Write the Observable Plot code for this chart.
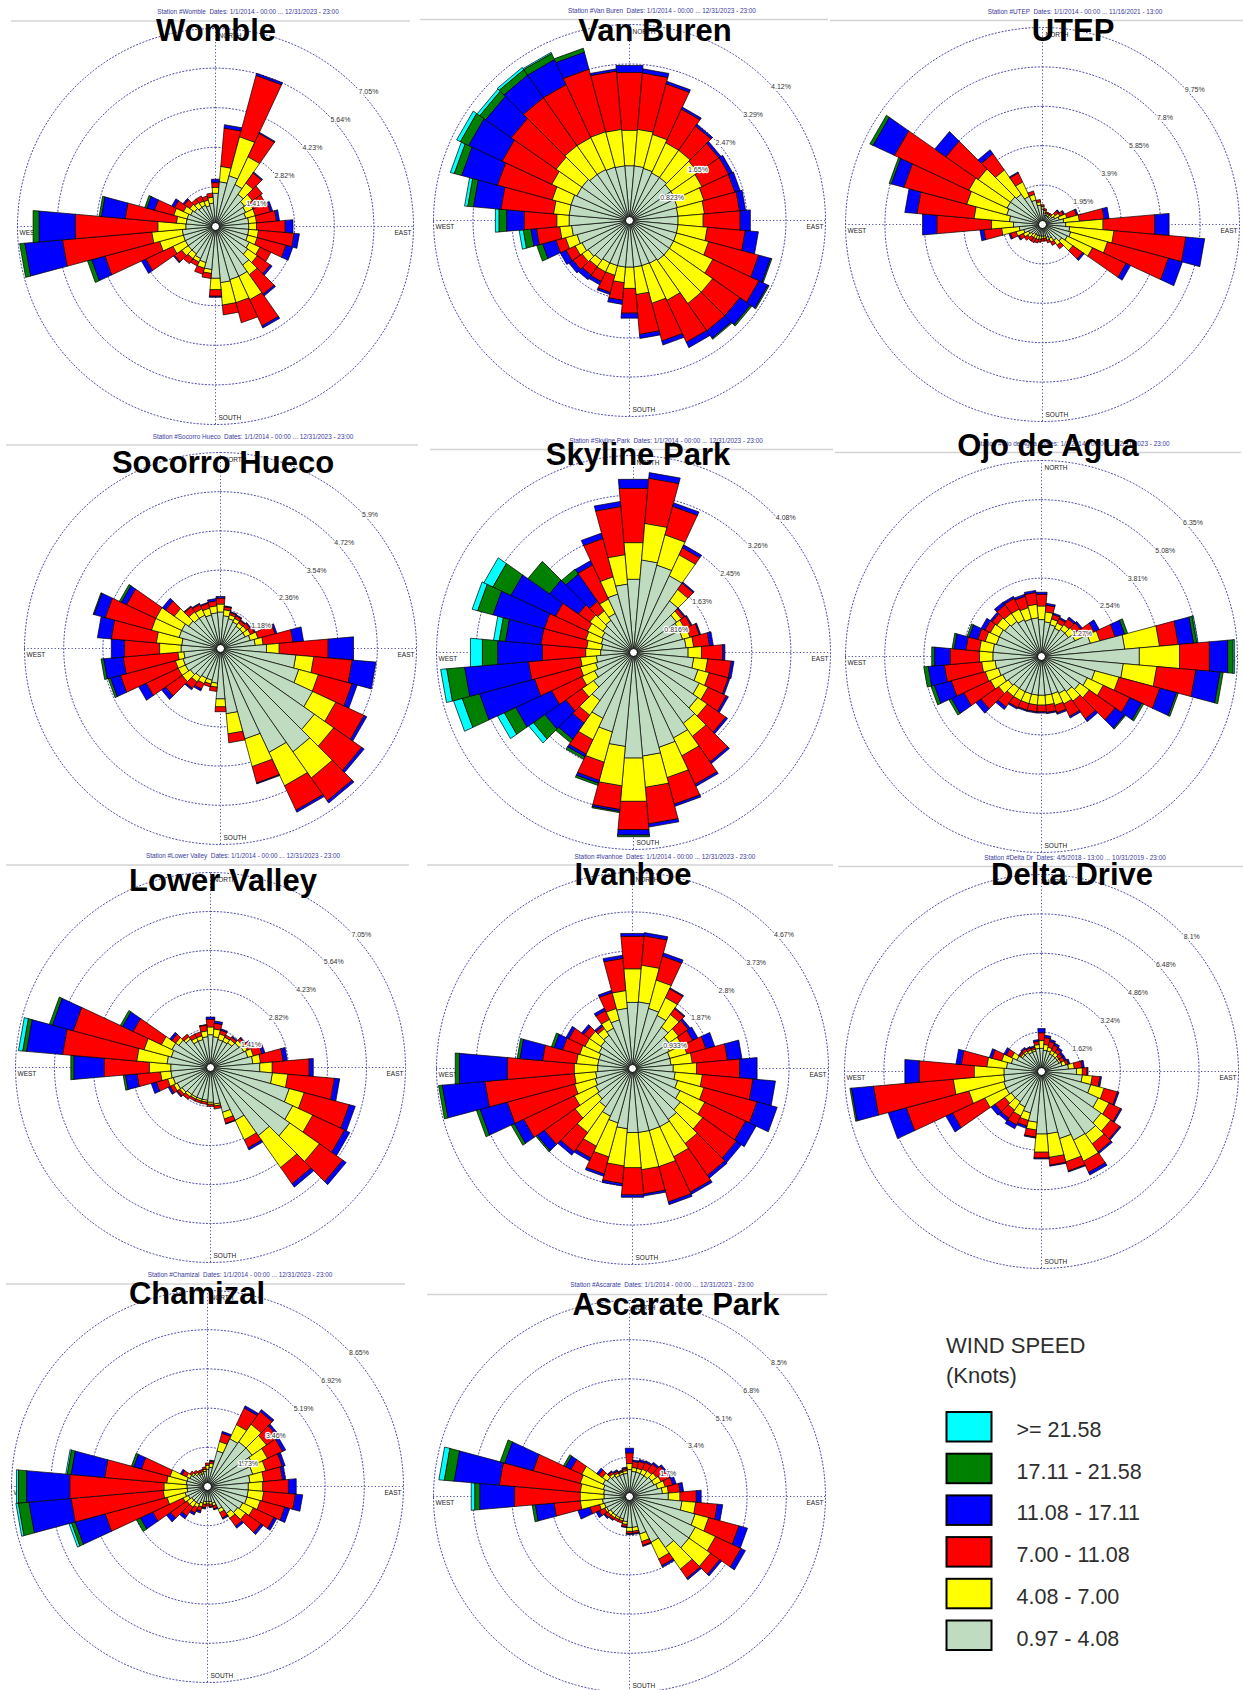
<!DOCTYPE html>
<html>
<head>
<meta charset="utf-8">
<script src="https://cdn.jsdelivr.net/npm/d3@7"></script>
<script src="https://cdn.jsdelivr.net/npm/@observablehq/plot@0.6"></script>
<style>
  html, body { margin: 0; padding: 0; background: #fff; }
  #page { position: relative; width: 1243px; height: 1690px; overflow: hidden; background: #fff; font-family: "Liberation Sans", Arial, sans-serif; }
  #page svg.rose { position: absolute; }
</style>
</head>
<body>
<div id="page"></div>
<script>
// ---------------- DATA ----------------
// direction sectors (degrees, clockwise from north)
const directions = d3.range(0, 360, 10);
// speed classes from the centre outwards (knots)
const speedClasses = ["0.97 - 4.08", "4.08 - 7.00", "7.00 - 11.08", "11.08 - 17.11", "17.11 - 21.58", ">= 21.58"];
const speedColors  = ["#c0dcc0", "#ffff00", "#ff0000", "#0000ff", "#008000", "#00ffff"];
const legendTitle = ["WIND SPEED", "(Knots)"];

const stationNames = ["Womble", "Van Buren", "UTEP", "Socorro Hueco", "Skyline Park", "Ojo de Agua",
  "Lower Valley", "Ivanhoe", "Delta Drive", "Chamizal", "Ascarate Park"];
const stationHeaders = [
  "Station #Womble  Dates: 1/1/2014 - 00:00 ... 12/31/2023 - 23:00",
  "Station #Van Buren  Dates: 1/1/2014 - 00:00 ... 12/31/2023 - 23:00",
  "Station #UTEP  Dates: 1/1/2014 - 00:00 ... 11/16/2021 - 13:00",
  "Station #Socorro Hueco  Dates: 1/1/2014 - 00:00 ... 12/31/2023 - 23:00",
  "Station #Skyline Park  Dates: 1/1/2014 - 00:00 ... 12/31/2023 - 23:00",
  "Station #Ojo de Agua  Dates: 1/1/2014 - 00:00 ... 12/31/2023 - 23:00",
  "Station #Lower Valley  Dates: 1/1/2014 - 00:00 ... 12/31/2023 - 23:00",
  "Station #Ivanhoe  Dates: 1/1/2014 - 00:00 ... 12/31/2023 - 23:00",
  "Station #Delta Dr  Dates: 4/5/2018 - 13:00 ... 10/31/2019 - 23:00",
  "Station #Chamizal  Dates: 1/1/2014 - 00:00 ... 12/31/2023 - 23:00",
  "Station #Ascarate  Dates: 1/1/2014 - 00:00 ... 12/31/2023 - 23:00"];

// ring values (percent) per station
const wombleRings   = [1.41, 2.82, 4.23, 5.64, 7.05];
const vanBurenRings = [0.823, 1.65, 2.47, 3.29, 4.12];
const utepRings     = [1.95, 3.9, 5.85, 7.8, 9.75];
const socorroRings  = [1.18, 2.36, 3.54, 4.72, 5.9];
const skylineRings  = [0.816, 1.63, 2.45, 3.26, 4.08];
const ojoRings      = [1.27, 2.54, 3.81, 5.08, 6.35];
const lowerValleyRings = [1.41, 2.82, 4.23, 5.64, 7.05];
const ivanhoeRings  = [0.933, 1.87, 2.8, 3.73, 4.67];
const deltaRings    = [1.62, 3.24, 4.86, 6.48, 8.1];
const chamizalRings = [1.73, 3.46, 5.19, 6.92, 8.65];
const ascarateRings = [1.7, 3.4, 5.1, 6.8, 8.5];

// frequency (%) per direction (0,10,...,350) per speed class (centre outwards)
const womble = [
 [1.20,.21,.17,.11],[1.61,.55,1.37,.11],[1.88,1.44,2.26,.07],[1.66,1.09,.92,.03],[1.41,.49,.44,.03],[1.27,.35,.42],
 [1.20,.28,.48],[1.13,.35,.56,.07],[1.20,.28,.71,.10],[1.20,.28,1.02,.27],[1.20,.35,1.27,.18],[1.20,.35,1.06,.24],
 [1.34,.42,.42],[1.41,.42,.56,.07],[1.69,.42,.85,.06],[1.97,.92,1.03,.07],[1.97,.85,.73],[2.02,.80,.34],
 [1.86,.41,.23,.03],[1.55,.14,.17],[1.34,.21,.21],[1.27,.14,.14],[1.20,.21,.21],[1.20,.28,.32,.03],
 [1.20,.49,1.06,.16],[1.20,.87,2.02,.49,.14],[1.20,1.09,3.19,1.35,.17],[1.07,1.00,2.95,1.30,.20],[1.06,.35,1.83,.85,.07],[1.06,.49,.71,.28,.07],
 [.99,.28,.35,.10],[.92,.21,.24,.04],[.85,.21,.14],[.85,.17,.18],[.78,.21,.14],[.85,.21,.14]];
const vanBuren = [
 [1.16,.75,1.22,.14],[1.16,.77,1.19,.08],[1.14,.74,1.10,.05],[1.11,.70,.78,.04],[1.11,.70,.62,.04],[1.07,.70,.53,.05],
 [1.07,.62,.62,.08],[1.05,.58,.67,.11],[1.03,.56,.74,.12],[1.03,.53,.78,.21],[1.03,.62,.80,.27],[1.03,.70,1.09,.26,.02],
 [1.03,.91,1.07,.21,.02],[1.03,1.11,.70,.27,.03],[1.03,1.11,.70,.19,.02],[1.00,.86,.97,.12],[.99,.82,.82,.08],[.99,.58,.84,.08],
 [.99,.45,.52,.10],[.99,.33,.37,.08],[.99,.21,.37,.04],[.99,.21,.22,.07],[1.03,.16,.22,.11],[1.07,.16,.23,.10],
 [1.11,.16,.21,.13],[1.15,.25,.21,.29,.12],[1.23,.25,.49,.12,.16,.08],[1.28,.26,.69,.37,.16,.07],[1.28,.33,1.11,.58,.12,.06],[1.28,.41,1.19,.78,.16,.08],
 [1.23,.58,1.15,.78,.19,.08],[1.23,.66,1.15,.66,.15,.06],[1.19,.74,1.23,.58,.14,.05],[1.19,.74,1.23,.58,.14,.02],[1.17,.77,1.36,.37,.08],[1.16,.77,1.23,.04]];
const utep = [
 [.78,.12,.08],[.59,.12,.08],[.49,.10,.06],[.49,.10,.06],[.49,.10,.08],[.59,.20,.20,.04],
 [.68,.29,.20,.04],[.88,.39,.49,.06],[1.07,.78,1.23,.23],[1.17,1.85,2.57,.70],[1.37,2.20,3.57,.92],[1.46,1.89,3.12,.70],
 [1.37,1.38,1.83,.23],[1.17,.68,.59,.08],[.98,.29,.20],[.78,.20,.16],[.68,.14,.12],[.59,.12,.12],
 [.59,.12,.12],[.59,.16,.14],[.59,.20,.16],[.59,.20,.20],[.59,.20,.20],[.68,.23,.20],
 [.78,.29,.23,.04],[.98,.39,.29,.06],[1.17,.88,.88,.18],[1.46,1.09,2.71,.70],[1.66,1.76,2.83,.59],[1.85,2.05,3.22,.64,.10],
 [1.95,2.09,4.06,1.17,.16],[1.95,1.95,1.95,.66],[1.85,1.46,.98,.23],[1.56,.78,.49,.04],[1.27,.29,.16],[.98,.16,.10]];
const socorroHueco = [
 [1.11,.24,.18,.04],[1.00,.18,.09,.02],[.94,.12,.07,.02],[.89,.12,.09,.02],[.83,.12,.09,.02],[.83,.14,.12,.02],
 [.83,.18,.13,.02],[.94,.24,.53,.05],[1.06,.24,.90,.31],[1.40,.38,1.48,.76],[2.29,.54,1.16,.71],[2.45,.61,1.05,.15],
 [3.07,.77,.94,.08],[3.46,.71,1.03,.08],[3.81,.96,.84,.07],[3.46,1.11,.81,.06],[2.83,.86,.51,.02],[1.98,.61,.26],
 [1.53,.24,.14],[1.06,.12,.12],[1.00,.12,.08],[1.00,.18,.18,.05],[1.06,.18,.24,.04],[1.12,.30,.61,.14],
 [1.18,.24,1.06,.24],[1.18,.24,1.71,.31,.06],[1.12,.18,1.65,.59,.07],[1.20,.65,1.06,.39],[1.18,.77,1.36,.41],[1.30,.86,1.44,.35,.02],
 [1.30,.86,.97,.17,.06],[1.18,.53,.32,.11],[1.12,.24,.18,.02],[1.12,.21,.15,.02],[1.06,.21,.15,.02],[1.09,.21,.15,.06]];
const skylinePark = [
 [1.53,.76,1.13,.18],[1.93,.76,.94,.11],[1.88,.65,.61,.07],[1.76,.48,.16,.06],[1.31,.29,.16,.02],[1.10,.12,.07,.02],
 [1.06,.12,.14,.02],[1.06,.16,.20,.02],[1.10,.16,.33,.07],[1.14,.28,.44,.04],[1.26,.29,.49,.05],[1.39,.24,.41,.03],
 [1.51,.20,.42,.04],[1.63,.24,.47,.04],[1.80,.33,.64,.04],[1.96,.41,.65,.04],[2.04,.65,.57,.04],[2.16,.65,.76,.06],
 [2.20,.90,.59,.11,.03],[1.96,.82,.49,.04,.02],[1.71,.65,.39,.06,.04],[1.51,.49,.33,.06,.05],[1.22,.37,.20,.41,.08],[1.02,.29,.41,.53,.29,.11],
 [.90,.29,.69,.82,.26,.15],[.82,.33,.98,1.18,.37,.18],[.78,.33,1.08,1.33,.37,.12],[.69,.31,.90,.93,.32,.24],[.67,.31,.95,.74,.13,.11],[.70,.33,.89,1.10,.33,.11],
 [.73,.33,.73,1.02,.41,.20],[.78,.33,.29,.73,.54],[.82,.24,.24,.69,.12],[.90,.33,.78,.09],[1.26,.37,.82,.11],[1.43,.61,1.00,.10]];
const ojoDeAgua = [
 [1.21,.44,.38,.06],[1.14,.32,.22,.05],[1.08,.19,.15,.04],[1.02,.19,.15,.04],[1.08,.19,.23,.06],[1.08,.25,.22,.06],
 [1.21,.25,.44,.17],[1.65,.32,.51,.32,.09],[2.72,1.13,.61,.50,.10,.03],[3.19,1.31,.97,.60,.17,.04],[2.67,1.09,1.27,.79,.09],[1.80,.81,1.37,.56,.05],
 [1.65,.57,.95,.42,.06],[1.52,.38,1.02,.38,.03],[1.40,.38,.70,.10],[1.33,.38,.44,.05],[1.27,.38,.25,.04],[1.27,.32,.24,.03],
 [1.27,.32,.22,.03],[1.27,.32,.22,.03],[1.27,.32,.22,.03],[1.27,.32,.25,.04],[1.27,.32,.42,.09],[1.33,.38,.70,.19],
 [1.40,.44,.95,.44,.08],[1.46,.44,1.14,.57,.10],[1.52,.44,1.21,.53,.13],[1.59,.44,.95,.51,.08],[1.59,.44,.44,.38,.06],[1.52,.38,.25,.29,.06],
 [1.52,.32,.19,.13],[1.46,.32,.19,.06],[1.40,.32,.34,.10],[1.33,.38,.38,.06],[1.27,.38,.38,.06],[1.27,.44,.38,.06]];
const lowerValley = [
 [1.20,.28,.28,.07],[1.13,.28,.21,.07],[1.06,.21,.14,.04],[1.06,.16,.08],[1.10,.15,.10,.03],[1.27,.14,.11,.03],
 [1.34,.14,.14,.07],[1.41,.21,.32,.10],[1.55,.28,.82,.14],[1.80,.45,1.34,.14],[2.26,.56,1.69,.18],[2.96,.56,1.69,.21],
 [3.29,.80,1.27,.20],[3.51,1.31,1.03,.14],[3.02,1.41,.72,.13],[2.12,.78,.32,.07],[1.69,.25,.17,.01],[1.34,.07,.10],
 [1.27,.07,.07],[1.20,.07,.07],[1.20,.07,.07],[1.20,.07,.07],[1.20,.10,.11],[1.27,.10,.11,.03],
 [1.34,.14,.14,.07],[1.41,.21,.42,.18],[1.45,.38,.85,.42,.07],[1.45,.78,1.64,1.10,.10],[1.59,1.10,2.69,1.31,.14,.14],[1.48,1.02,2.65,.78,.10],
 [1.55,.42,1.13,.42,.08],[1.41,.14,.17,.08],[1.27,.10,.10],[1.06,.14,.14],[1.06,.14,.14],[1.13,.21,.21,.01]];
const ivanhoe = [
 [1.59,.80,.78,.06],[1.60,.88,.70,.07],[1.49,.70,.59,.07],[1.40,.47,.23,.02],[1.21,.37,.17,.02],[1.07,.28,.28,.05],
 [.98,.33,.28,.13],[.93,.42,.47,.21],[.93,.51,.84,.34],[.98,.56,1.03,.41],[1.03,.65,1.21,.53],[1.12,.65,1.31,.49],
 [1.26,.65,1.07,.27],[1.40,.65,.98,.14],[1.49,.70,.93,.07],[1.54,.79,.93,.05],[1.54,.89,.87,.06],[1.54,.89,.58,.04],
 [1.54,.84,.65,.05],[1.45,.89,.42,.05],[1.35,.84,.42,.05],[1.26,.79,.31,.07],[1.12,.75,.56,.09],[1.03,.65,.89,.21,.03],
 [.98,.56,1.33,.25,.07],[.93,.51,1.66,.67,.08],[.89,.51,2.14,1.02,.08],[.84,.56,1.60,1.15,.09],[.84,.51,.81,.54,.06],[.84,.47,.42,.21,.06],
 [.89,.37,.42,.07],[.93,.33,.16,.06],[.98,.19,.07,.04],[1.07,.23,.23,.06],[1.21,.28,.39,.05],[1.45,.42,.77,.07]];
const deltaDrive = [
 [.97,.32,.32,.16],[.89,.24,.29,.08],[.89,.16,.24,.08],[.81,.16,.24,.08],[.81,.16,.16,.08],[.81,.08,.16,.08],
 [.81,.08,.16,.08],[.89,.16,.11,.05],[1.13,.24,.32,.08],[1.46,.24,.19,.03],[1.70,.41,.32,.05],[2.11,.57,.57,.05],
 [2.59,.49,.52,.05],[3.00,.49,.45,.05],[3.16,.49,.41,.06],[3.13,.96,.50,.11],[2.87,.99,.39,.03],[2.59,.97,.32,.03],
 [2.59,.75,.24,.03],[2.11,.32,.29,.03],[1.78,.32,.24,.08],[1.62,.41,.41,.16],[1.54,.41,.41,.13],[1.54,.32,.49,.19],
 [1.62,.97,1.46,.29],[1.62,1.49,2.66,.76],[1.57,2.09,3.29,.91,.05],[1.56,1.23,2.27,.58],[1.46,.81,1.05,.21],[1.30,.41,.41,.10],
 [1.13,.24,.24,.10],[.97,.08,.08,.03],[.97,.08,.11,.05],[.89,.11,.10,.03],[.89,.08,.08,.05],[.97,.16,.13,.06]];
const chamizal = [
 [.78,.17,.09],[.87,.17,.10,.03],[1.64,.43,.38,.07],[2.34,.69,.81,.09],[2.42,.95,.69,.09],[2.42,.78,.61,.09],
 [2.25,.69,.73,.14],[2.08,.61,.74,.12],[1.90,.61,.83,.12],[1.82,.64,1.14,.33],[1.82,.69,1.40,.31],[1.82,.61,1.12,.21],
 [1.73,.52,1.00,.12],[1.64,.43,.83,.10],[1.47,.26,.43,.09],[1.12,.17,.26,.05],[.78,.12,.14,.03],[.69,.12,.10,.03],
 [.69,.09,.09],[.69,.12,.14,.05],[.78,.17,.19,.07],[.87,.17,.26,.09],[.87,.26,.47,.14],[.87,.26,.87,.21],
 [.95,.26,1.47,.61,.17],[1.04,.83,2.82,1.37,.17,.10],[.92,1.06,4.08,1.87,.47,.09],[.92,1.02,4.17,1.92,.36,.07],[.95,.87,2.75,1.49,.17,.05],[.95,.78,1.30,.35,.09],
 [.87,.17,.21,.07],[.78,.09,.09],[.69,.09,.09],[.61,.09,.09],[.61,.09,.09],[.69,.09,.09]];
const ascaratePark = [
 [1.19,.26,.46,.19],[1.11,.17,.26,.05],[1.11,.17,.31,.07],[1.11,.22,.32,.05],[1.11,.26,.37,.07],[1.19,.26,.43,.07],
 [1.19,.34,.39,.10],[1.28,.34,.34,.14],[1.45,.26,.51,.14],[1.70,.51,.71,.20],[2.30,.60,.94,.22],[2.96,.61,1.36,.37],
 [3.16,.97,1.22,.20],[3.16,1.14,.49,.09],[2.72,1.14,.48,.07],[2.21,.80,.31,.07],[1.70,.34,.17,.03],[1.36,.17,.09,.03],
 [1.36,.17,.09,.03],[1.11,.12,.10,.03],[1.02,.09,.09],[1.02,.09,.09],[1.02,.12,.10,.03],[1.02,.14,.15,.05],
 [1.11,.09,.26,.14],[1.14,.22,.43,.53],[1.19,.97,1.14,.82,.12],[1.12,1.04,2.86,1.51,.22,.14],[1.14,1.02,3.52,1.97,.43,.22],[1.19,1.04,2.11,1.28,.19],
 [1.28,1.02,.51,.26,.09],[1.19,.26,.20,.09],[1.11,.12,.10,.03],[1.02,.12,.09,.05],[1.02,.09,.05,.03],[1.02,.12,.09,.05]];

const stationRows  = [womble, vanBuren, utep, socorroHueco, skylinePark, ojoDeAgua, lowerValley, ivanhoe, deltaDrive, chamizal, ascaratePark];
const stationRings = [wombleRings, vanBurenRings, utepRings, socorroRings, skylineRings, ojoRings, lowerValleyRings, ivanhoeRings, deltaRings, chamizalRings, ascarateRings];

// ---------------- LAYOUT (pixels) ----------------
const panelCx = [215, 629, 1042, 220, 633, 1041, 210, 632, 1041, 207, 629];
const panelCy = [226, 220, 224, 648, 652, 656, 1067, 1068, 1071, 1486, 1496];
const panelR  = [198, 196, 197, 196, 197, 196, 195, 196, 197, 196, 196];
const titleX  = [216, 655, 1073, 223, 638, 1048, 223, 633, 1072, 197, 676];
const titleY  = [41, 41, 41, 473, 465, 456, 891, 885, 885, 1304, 1315];
const headerX = [248, 662, 1075, 253, 666, 1073, 243, 665, 1075, 240, 662];
const headerY = [12, 11, 12, 437, 441, 444, 856, 857, 858, 1275, 1285];
const sepY    = [21, 19.5, 20.5, 445, 449.5, 452.5, 865, 865, 866.5, 1284, 1294.5];
const sepX1   = [11, 420, 830, 6, 430, 835, 6, 427, 838, 6, 427];
const sepX2   = [410, 828, 1243, 418, 833, 1241, 409, 833, 1243, 405, 827];

const FONT = "Liberation Sans, Arial, sans-serif";
const gridColor = "#4d4daa";
const page = document.getElementById("page");

function rose(rows, rings, R) {
  const max = rings[rings.length - 1];
  const pad = 8;
  const size = 2 * (R + pad);
  const rad = Math.PI / 180;
  const wedges = [];
  rows.forEach((vals, i) => {
    const th = directions[i];
    let r0 = 0;
    vals.forEach((v, k) => {
      if (!(v > 0)) return;
      const r1 = r0 + v;
      const a0 = (th - 5) * rad, a1 = (th + 5) * rad;
      const id = i * 10 + k;
      for (const [r, a] of [[r0, a0], [r1, a0], [r1, a1], [r0, a1]]) {
        wedges.push({id, cls: speedClasses[k], x: r * Math.sin(a), y: r * Math.cos(a)});
      }
      r0 = r1;
    });
  });
  const ringPts = rings.flatMap((r, k) => d3.range(0, 360, 2).map(a => ({k, x: r * Math.sin(a * rad), y: r * Math.cos(a * rad)})));
  const labelStyle = {fontSize: 6.5, fill: "#222"};
  return Plot.plot({
    width: size, height: size, margin: pad,
    x: {domain: [-max, max], axis: null},
    y: {domain: [-max, max], axis: null},
    color: {domain: speedClasses, range: speedColors},
    style: {background: "transparent", overflow: "visible", fontFamily: FONT},
    marks: [
      Plot.line(ringPts, {x: "x", y: "y", z: "k", curve: "linear-closed", stroke: gridColor, strokeWidth: 1, strokeDasharray: "1.2,2.2"}),
      Plot.ruleX([0], {y1: -max, y2: max, stroke: gridColor, strokeWidth: 1, strokeDasharray: "1.2,2.2"}),
      Plot.ruleY([0], {x1: -max, x2: max, stroke: gridColor, strokeWidth: 1, strokeDasharray: "1.2,2.2"}),
      Plot.text(["NORTH"], {x: 0, y: max, text: d => d, textAnchor: "start", dx: 3, dy: 7, ...labelStyle}),
      Plot.text(["SOUTH"], {x: 0, y: -max, text: d => d, textAnchor: "start", dx: 3, dy: -7, ...labelStyle}),
      Plot.text(["WEST"], {x: -max, y: 0, text: d => d, textAnchor: "start", dx: 2, dy: 6, ...labelStyle}),
      Plot.text(["EAST"], {x: max, y: 0, text: d => d, textAnchor: "end", dx: -2, dy: 6, ...labelStyle}),
      Plot.line(wedges, {x: "x", y: "y", z: "id", fill: "cls", stroke: "#000", strokeWidth: 0.7, curve: "linear-closed"}),
      Plot.dot([0], {x: 0, y: 0, r: 4, fill: "white", stroke: "#000", strokeWidth: 1}),
      Plot.text(rings, {x: d => d * Math.SQRT1_2, y: d => d * Math.SQRT1_2, text: d => `${d}%`, textAnchor: "start",
        dx: 3, dy: 5, fontSize: 7, fill: "#333", stroke: "white", strokeWidth: 2.5})
    ]
  });
}

stationRows.forEach((rows, i) => {
  const svg = rose(rows, stationRings[i], panelR[i]);
  svg.classList.add("rose");
  svg.style.left = (panelCx[i] - panelR[i] - 8) + "px";
  svg.style.top = (panelCy[i] - panelR[i] - 8) + "px";
  page.appendChild(svg);
});

// ---------------- overlay: headers, titles, legend ----------------
const ov = d3.select(page).append("svg")
  .attr("width", 1243).attr("height", 1690)
  .style("position", "absolute").style("left", "0px").style("top", "0px")
  .attr("font-family", FONT);

stationNames.forEach((name, i) => {
  ov.append("line").attr("x1", sepX1[i]).attr("x2", sepX2[i]).attr("y1", sepY[i]).attr("y2", sepY[i])
    .attr("stroke", "#d3d3d3").attr("stroke-width", 1.6);
  ov.append("text").attr("x", headerX[i]).attr("y", headerY[i]).attr("text-anchor", "middle")
    .attr("dominant-baseline", "middle").attr("font-size", 6.4).attr("fill", "#3a3a9c")
    .style("white-space", "pre").text(stationHeaders[i]);
});
stationNames.forEach((name, i) => {
  ov.append("text").attr("x", titleX[i]).attr("y", titleY[i]).attr("text-anchor", "middle")
    .attr("font-size", 31).attr("font-weight", "bold").attr("fill", "#000").text(name);
});

// legend (outermost class first)
const lg = ov.append("g");
lg.append("text").attr("x", 946).attr("y", 1353).attr("font-size", 22).attr("fill", "#2e2e2e").text(legendTitle[0]);
lg.append("text").attr("x", 946).attr("y", 1383).attr("font-size", 22).attr("fill", "#2e2e2e").text(legendTitle[1]);
const legendOrder = d3.range(speedClasses.length).reverse();
legendOrder.forEach((k, j) => {
  const y0 = 1412 + j * 41.7;
  lg.append("rect").attr("x", 946.5).attr("y", y0).attr("width", 45).attr("height", 29.5)
    .attr("fill", speedColors[k]).attr("stroke", "#000").attr("stroke-width", 2);
  lg.append("text").attr("x", 1016.5).attr("y", y0 + 25).attr("font-size", 21.5).attr("fill", "#2e2e2e").text(speedClasses[k]);
});
</script>
</body>
</html>
